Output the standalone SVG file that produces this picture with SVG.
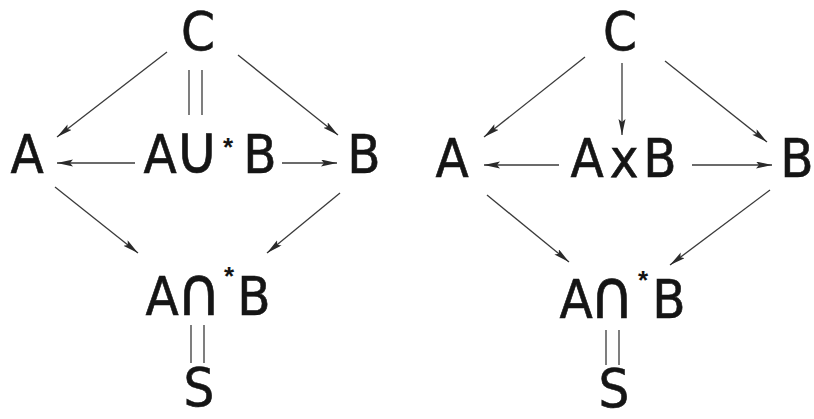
<svg xmlns="http://www.w3.org/2000/svg" width="814" height="419" viewBox="0 0 814 419">
<style>
.t{font-family:"DejaVu Sans Condensed","DejaVu Sans",sans-serif;font-size:54px;fill:#151515;text-anchor:middle;stroke:#151515;stroke-width:0.6}
.m{font-size:68px}
.s{font-family:"Liberation Sans","DejaVu Sans",sans-serif;font-size:26px;font-weight:bold;fill:#151515;text-anchor:middle}
.e{stroke:#3a3a3a;stroke-width:1.3;fill:none}
.a{marker-end:url(#ah)}
</style>
<defs>
<marker id="ah" markerUnits="userSpaceOnUse" markerWidth="18" markerHeight="8" refX="16" refY="3.5" orient="auto">
<path d="M0,0 L16,3.5 L0,7 L3,3.5 z" fill="#2a2a2a"/>
</marker>
</defs>
<rect width="814" height="419" fill="#ffffff"/>
<g id="connectors">
<line class="e a" x1="167" y1="52" x2="57" y2="137"/>
<line class="e a" x1="238" y1="55" x2="338" y2="135"/>
<line class="e" x1="189" y1="70" x2="189" y2="115"/>
<line class="e" x1="202" y1="70" x2="202" y2="115"/>
<line class="e a" x1="135" y1="163" x2="57" y2="163"/>
<line class="e a" x1="282" y1="163" x2="337" y2="163"/>
<line class="e a" x1="55" y1="187" x2="138" y2="253"/>
<line class="e a" x1="340" y1="193" x2="267" y2="253"/>
<line class="e" x1="191" y1="325" x2="191" y2="363"/>
<line class="e" x1="204" y1="325" x2="204" y2="363"/>
<line class="e a" x1="585" y1="57" x2="484" y2="137"/>
<line class="e a" x1="622" y1="63" x2="622" y2="135"/>
<line class="e a" x1="665" y1="61" x2="767" y2="142"/>
<line class="e a" x1="559" y1="165" x2="484" y2="165"/>
<line class="e a" x1="692" y1="165" x2="772" y2="165"/>
<line class="e a" x1="487" y1="195" x2="569" y2="262"/>
<line class="e a" x1="770" y1="190" x2="670" y2="265"/>
<line class="e" x1="606" y1="330" x2="606" y2="365"/>
<line class="e" x1="619" y1="330" x2="619" y2="365"/>
</g>
<g id="left-C"><text class="t" x="198" y="50">C</text></g>
<g id="left-A"><text class="t" x="27" y="173">A</text></g>
<g id="left-AunionB"><text class="t" y="173"><tspan x="160">A</tspan><tspan class="m" x="197">∪</tspan><tspan x="260">B</tspan></text><text class="s" x="228" y="156">*</text></g>
<g id="left-B"><text class="t" x="364" y="173">B</text></g>
<g id="left-AintersectB"><text class="t" y="315"><tspan x="162">A</tspan><tspan class="m" x="199">∩</tspan><tspan x="254">B</tspan></text><text class="s" x="229" y="285">*</text></g>
<g id="left-S"><text class="t" x="199" y="406">S</text></g>
<g id="right-C"><text class="t" x="620" y="50">C</text></g>
<g id="right-A"><text class="t" x="452" y="177">A</text></g>
<g id="right-AxB"><text class="t" y="177"><tspan x="587">A</tspan><tspan x="624">x</tspan><tspan x="660">B</tspan></text></g>
<g id="right-B"><text class="t" x="797" y="177">B</text></g>
<g id="right-AintersectB"><text class="t" y="318"><tspan x="576">A</tspan><tspan class="m" x="612">∩</tspan><tspan x="669">B</tspan></text><text class="s" x="643" y="289">*</text></g>
<g id="right-S"><text class="t" x="614" y="407">S</text></g>
</svg>
